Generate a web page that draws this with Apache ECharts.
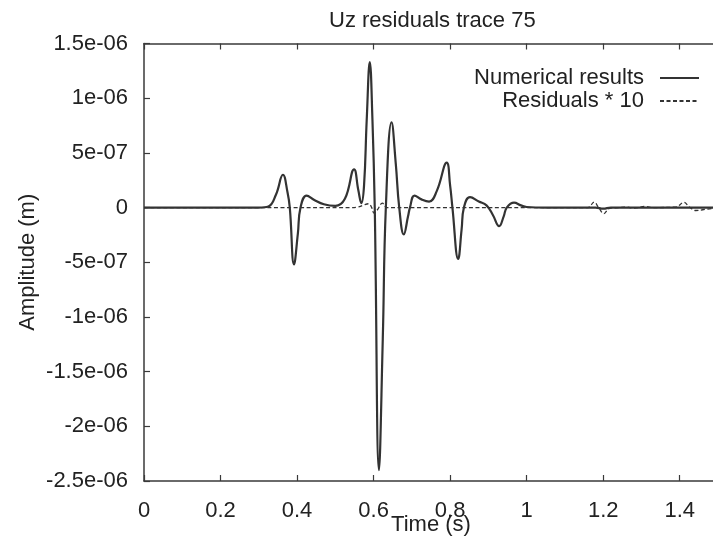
<!DOCTYPE html>
<html>
<head>
<meta charset="utf-8">
<script src="https://cdn.jsdelivr.net/npm/echarts@6/dist/echarts.min.js"></script>
<style>
html, body { margin: 0; padding: 0; background: #fff; }
#chart { width: 713px; height: 541px; }
</style>
</head>
<body>
<div id="chart"></div>
<script>
const xTickLabels = ['0', '0.2', '0.4', '0.6', '0.8', '1', '1.2', '1.4']
const yTickLabels = ['-2.5e-06', '-2e-06', '-1.5e-06', '-1e-06', '-5e-07', '0', '5e-07', '1e-06', '1.5e-06']

// Numerical results (solid)
const numTime = [0, 0.30, 0.325, 0.345, 0.363, 0.375, 0.381, 0.392, 0.402, 0.409, 0.425, 0.445, 0.47, 0.50,
  0.525, 0.549, 0.56, 0.568, 0.575, 0.582, 0.590, 0.597, 0.603, 0.614, 0.624, 0.632, 0.647, 0.658, 0.667, 0.679,
  0.690, 0.695, 0.707, 0.725, 0.745, 0.765, 0.791, 0.800, 0.806, 0.821, 0.830, 0.836, 0.852, 0.875, 0.895,
  0.912, 0.928, 0.94, 0.948, 0.967, 0.985, 1.0, 1.05, 1.18, 1.2, 1.22, 1.5]
const numAmp = [0, 0, 0.1e-7, 1.2e-7, 3.0e-7, 1.4e-7, 0, -5.2e-7, -2.4e-7, 0, 1.1e-7, 0.7e-7, 0.3e-7, 0.15e-7,
  0.8e-7, 3.5e-7, 1.6e-7, 0.4e-7, 2.0e-7, 8.0e-7, 13.3e-7, 8.0e-7, 0, -24.0e-7, -12.0e-7, 0, 7.8e-7, 4.0e-7, 0, -2.45e-7,
  -0.8e-7, 0, 1.1e-7, 0.75e-7, 0.55e-7, 1.5e-7, 4.1e-7, 2.0e-7, 0, -4.7e-7, -2.0e-7, 0, 0.95e-7, 0.55e-7, 0.2e-7,
  -0.7e-7, -1.7e-7, -0.8e-7, 0, 0.45e-7, 0.2e-7, 0.05e-7, 0, 0, -0.1e-7, 0, 0]

// Residuals * 10 (dashed)
const resTime = [0, 0.54, 0.56, 0.572, 0.587, 0.595, 0.601, 0.610, 0.623, 0.635, 1.16, 1.176, 1.188, 1.202, 1.215,
  1.24, 1.26, 1.28, 1.31, 1.33, 1.39, 1.411, 1.425, 1.442, 1.46, 1.5]
const resAmp = [0, 0, 0.05e-7, 0.2e-7, 0.35e-7, 0, -0.5e-7, -0.2e-7, 0.4e-7, 0, 0, 0.5e-7, 0, -0.55e-7, -0.1e-7,
  0, 0.05e-7, -0.05e-7, 0.1e-7, 0, 0.05e-7, 0.48e-7, 0.05e-7, -0.27e-7, -0.2e-7, 0]

const font = "'Liberation Sans', Arial, Helvetica, sans-serif"
const txt = '#222'
const axisColor = '#3a3a3a'

const chart = echarts.init(document.getElementById('chart'))

const legendBase = {
  right: 8,
  align: 'right',
  itemWidth: 39,
  itemHeight: 14,
  itemStyle: { opacity: 0 },
  textStyle: { fontSize: 22, color: txt, fontFamily: font, padding: [0, 11, 0, 0] }
}

const options = {
  animation: false,
  backgroundColor: '#fff',
  textStyle: { fontFamily: font, color: txt },
  title: {
    text: 'Uz residuals trace 75',
    left: 324,
    top: 5,
    textStyle: { fontSize: 22, fontWeight: 'normal', color: txt, fontFamily: font }
  },
  legend: [
    Object.assign({ data: ['Numerical results'], top: 62 }, legendBase),
    Object.assign({ data: ['Residuals * 10'], top: 85 }, legendBase)
  ],
  grid: {
    left: 144,
    top: 43.5,
    right: -5,
    bottom: 60,
    outerBoundsMode: 'none'
  },
  xAxis: [
    {
      type: 'value',
      min: 0,
      max: 1.5,
      interval: 0.2,
      name: 'Time (s)',
      nameLocation: 'middle',
      nameGap: 33,
      nameMoveOverlap: false,
      nameTextStyle: { fontSize: 22, color: txt, fontFamily: font },
      axisLine: { show: true, onZero: false, lineStyle: { color: axisColor, width: 1.5 } },
      axisTick: { inside: true, length: 6, lineStyle: { color: axisColor, width: 1.2 } },
      axisLabel: {
        fontSize: 22,
        color: txt,
        margin: 19,
        showMaxLabel: false,
        formatter: (v, i) => xTickLabels[i] || ''
      },
      splitLine: { show: false }
    },
    {
      type: 'value',
      position: 'top',
      min: 0,
      max: 1.5,
      interval: 0.2,
      axisLine: { show: true, onZero: false, lineStyle: { color: axisColor, width: 1.5 } },
      axisTick: { inside: true, length: 6, lineStyle: { color: axisColor, width: 1.2 } },
      axisLabel: { show: false },
      splitLine: { show: false }
    }
  ],
  yAxis: {
    type: 'value',
    min: -2.5e-6,
    max: 1.5e-6,
    interval: 5e-7,
    name: 'Amplitude (m)',
    nameLocation: 'middle',
    nameGap: 105,
    nameMoveOverlap: false,
    nameTextStyle: { fontSize: 22, color: txt, fontFamily: font },
    axisLine: { show: true, onZero: false, lineStyle: { color: axisColor, width: 1.5 } },
    axisTick: { inside: true, length: 6, lineStyle: { color: axisColor, width: 1.2 } },
    axisLabel: {
      fontSize: 22,
      color: txt,
      margin: 16,
      formatter: (v, i) => yTickLabels[i] || ''
    },
    splitLine: { show: false }
  },
  series: [
    {
      name: 'Numerical results',
      type: 'line',
      xAxisIndex: 0,
      data: numTime.map((t, i) => [t, numAmp[i]]),
      showSymbol: false,
      symbol: 'none',
      smooth: 0.45,
      lineStyle: { color: '#333', width: 2.2 },
      itemStyle: { color: '#333' },
      z: 3
    },
    {
      name: 'Residuals * 10',
      type: 'line',
      xAxisIndex: 0,
      data: resTime.map((t, i) => [t, resAmp[i]]),
      showSymbol: false,
      symbol: 'none',
      smooth: 0.4,
      lineStyle: { color: '#333', width: 1.3, type: [4, 2.5] },
      itemStyle: { color: '#333' },
      z: 2
    }
  ]
}

chart.setOption(options)
</script>
</body>
</html>
